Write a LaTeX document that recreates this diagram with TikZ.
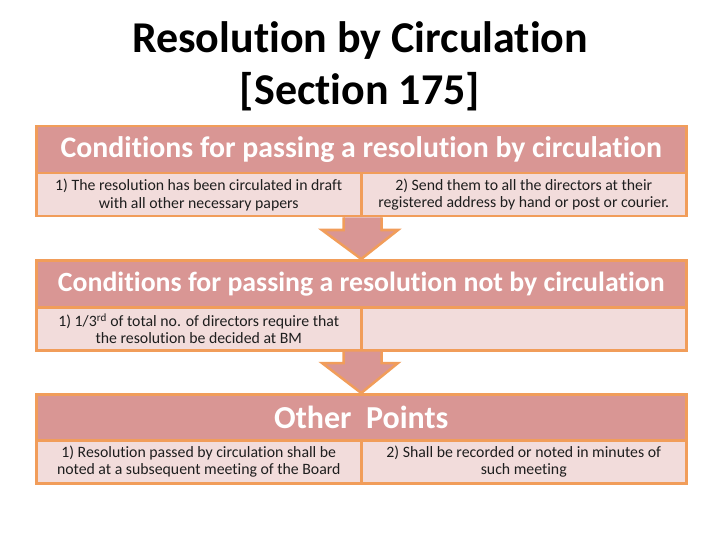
\documentclass[tikz,border=0pt]{standalone}
\usepackage{fontspec}
\setmainfont{Carlito}[RawFeature={-liga}]
\definecolor{hdrfill}{RGB}{217,150,148}
\definecolor{cellfill}{RGB}{242,220,219}
\definecolor{bord}{RGB}{241,157,90}
\definecolor{celltext}{RGB}{30,30,30}
\begin{document}
\begin{tikzpicture}[x=1pt,y=-1pt,
  hdr/.style={draw=bord, fill=hdrfill, line width=2.5pt, minimum width=650pt, minimum height=47pt, anchor=north west, inner sep=0pt, text=white, font=\bfseries\fontsize{28.5}{32}\selectfont},
  cell/.style={draw=bord, fill=cellfill, line width=2.5pt, minimum width=325pt, minimum height=43pt, anchor=north west, inner sep=0pt, text=celltext, align=center, font=\fontsize{15.8}{17.5}\selectfont},
  blockarrow/.style={draw=bord, fill=hdrfill, line width=2.5pt, line join=miter}]
\useasboundingbox (0,0) rectangle (720,540);
\node[font=\bfseries\fontsize{44}{52}\selectfont, align=center] (title) at (360,66) {Resolution by Circulation\\{}[Section 175]};
% box 1
\node[hdr, font=\bfseries\fontsize{29.8}{32}\selectfont] (h1) at (35,125) {Conditions for passing a resolution by circulation};
\node[cell] (c11) at (35,172) {1) The resolution has been circulated in draft\\with all other necessary papers};
\node[cell] (c12) at (360,172) {2) Send them to all the directors at their\\registered address by hand or post or courier.};
% box 2
\node[hdr, font=\bfseries\fontsize{27.8}{32}\selectfont] (h2) at (35,259) {Conditions for passing a resolution not by circulation};
\node[cell] (c21) at (35,306) {1) 1/3\textsuperscript{rd} of total no. of directors require that\\the resolution be decided at BM};
\node[cell] (c22) at (360,306) {};
% box 3
\node[hdr, font=\bfseries\fontsize{32}{34}\selectfont] (h3) at (35,393) {Other~ Points};
\node[cell] (c31) at (35,439) {1) Resolution passed by circulation shall be\\noted at a subsequent meeting of the Board};
\node[cell] (c32) at (360,439) {2) Shall be recorded or noted in minutes of\\such meeting};
% arrows
\coordinate (a1s) at (c11.south east);
\coordinate (a1t) at (h2.north);
\draw[blockarrow] ([xshift=-19pt]a1s) -- ([xshift=-19pt]a1s |- 0,230) -- (322,230) -- (a1t) -- (398,230) -- ([xshift=19pt]a1s |- 0,230) -- ([xshift=19pt]a1s) ;
\coordinate (a2s) at (c21.south east);
\coordinate (a2t) at (h3.north);
\draw[blockarrow] ([xshift=-19pt]a2s) -- ([xshift=-19pt]a2s |- 0,363) -- (322,363) -- (a2t) -- (398,363) -- ([xshift=19pt]a2s |- 0,363) -- ([xshift=19pt]a2s) ;
\end{tikzpicture}
\end{document}
